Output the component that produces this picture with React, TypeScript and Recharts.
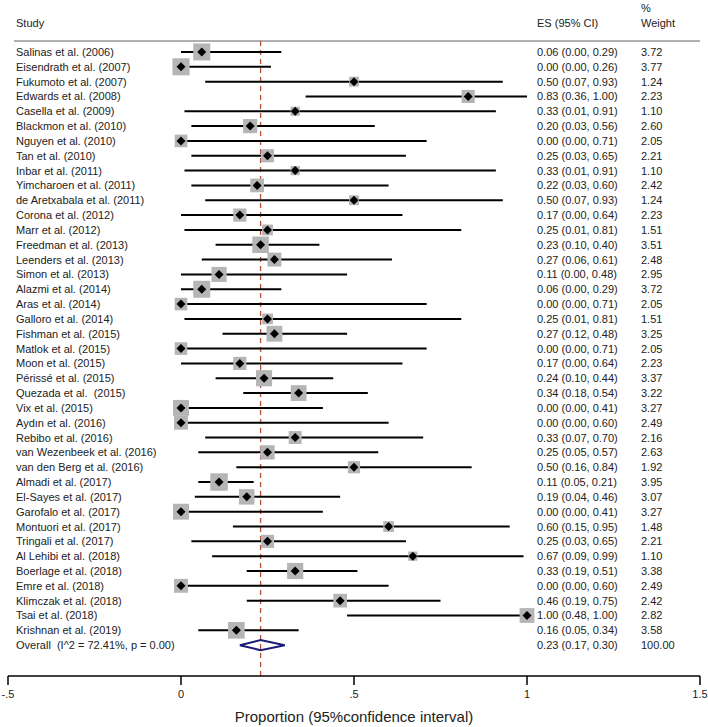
import { ComposedChart, ErrorBar, ReferenceLine, Scatter, XAxis, YAxis } from "recharts";

const font = "'Liberation Sans', Arial, sans-serif";
const ink = "#222222";

const studies = [
  "Salinas et al. (2006)", "Eisendrath et al. (2007)", "Fukumoto et al. (2007)", "Edwards et al. (2008)",
  "Casella et al. (2009)", "Blackmon et al. (2010)", "Nguyen et al. (2010)", "Tan et al. (2010)",
  "Inbar et al. (2011)", "Yimcharoen et al. (2011)", "de Aretxabala et al. (2011)", "Corona et al. (2012)",
  "Marr et al. (2012)", "Freedman et al. (2013)", "Leenders et al. (2013)", "Simon et al. (2013)",
  "Alazmi et al. (2014)", "Aras et al. (2014)", "Galloro et al. (2014)", "Fishman et al. (2015)",
  "Matlok et al. (2015)", "Moon et al. (2015)", "Périssé et al. (2015)", "Quezada et al.  (2015)",
  "Vix et al. (2015)", "Aydın et al. (2016)", "Rebibo et al. (2016)", "van Wezenbeek et al. (2016)",
  "van den Berg et al. (2016)", "Almadi et al. (2017)", "El-Sayes et al. (2017)", "Garofalo et al. (2017)",
  "Montuori et al. (2017)", "Tringali et al. (2017)", "Al Lehibi et al. (2018)", "Boerlage et al. (2018)",
  "Emre et al. (2018)", "Klimczak et al. (2018)", "Tsai et al. (2018)", "Krishnan et al. (2019)"
];
const es = [0.06, 0.0, 0.5, 0.83, 0.33, 0.2, 0.0, 0.25, 0.33, 0.22, 0.5, 0.17, 0.25, 0.23, 0.27, 0.11, 0.06, 0.0, 0.25, 0.27,
  0.0, 0.17, 0.24, 0.34, 0.0, 0.0, 0.33, 0.25, 0.5, 0.11, 0.19, 0.0, 0.6, 0.25, 0.67, 0.33, 0.0, 0.46, 1.0, 0.16];
const ciLow = [0.0, 0.0, 0.07, 0.36, 0.01, 0.03, 0.0, 0.03, 0.01, 0.03, 0.07, 0.0, 0.01, 0.1, 0.06, 0.0, 0.0, 0.0, 0.01, 0.12,
  0.0, 0.0, 0.1, 0.18, 0.0, 0.0, 0.07, 0.05, 0.16, 0.05, 0.04, 0.0, 0.15, 0.03, 0.09, 0.19, 0.0, 0.19, 0.48, 0.05];
const ciHigh = [0.29, 0.26, 0.93, 1.0, 0.91, 0.56, 0.71, 0.65, 0.91, 0.6, 0.93, 0.64, 0.81, 0.4, 0.61, 0.48, 0.29, 0.71, 0.81, 0.48,
  0.71, 0.64, 0.44, 0.54, 0.41, 0.6, 0.7, 0.57, 0.84, 0.21, 0.46, 0.41, 0.95, 0.65, 0.99, 0.51, 0.6, 0.75, 1.0, 0.34];
const weight = [3.72, 3.77, 1.24, 2.23, 1.1, 2.6, 2.05, 2.21, 1.1, 2.42, 1.24, 2.23, 1.51, 3.51, 2.48, 2.95, 3.72, 2.05, 1.51, 3.25,
  2.05, 2.23, 3.37, 3.22, 3.27, 2.49, 2.16, 2.63, 1.92, 3.95, 3.07, 3.27, 1.48, 2.21, 1.1, 3.38, 2.49, 2.42, 2.82, 3.58];

const overallLabel = "Overall  (I^2 = 72.41%, p = 0.00)";
const overallEs = 0.23;
const overallCi = [0.17, 0.3];
const overallWeight = 100;

const xTicks = [-0.5, 0, 0.5, 1, 1.5];

const rows = studies.map((name, i) => ({
  name, x: es[i], y: i, lo: ciLow[i], hi: ciHigh[i], w: weight[i],
  err: [es[i] - ciLow[i], ciHigh[i] - es[i]]
}));
// text rows, anchored to the left edge of the x range; only their y is used
const labels = [
  ...rows.map((r) => ({ name: r.name, ci: `${r.x.toFixed(2)} (${r.lo.toFixed(2)}, ${r.hi.toFixed(2)})`, w: r.w.toFixed(2) })),
  { name: overallLabel, ci: `${overallEs.toFixed(2)} (${overallCi[0].toFixed(2)}, ${overallCi[1].toFixed(2)})`, w: overallWeight.toFixed(2) }
].map((l, i) => ({ ...l, x: -0.5, y: i }));
const overallRow = rows.length;
const dh = 0.34; // diamond half height, in rows
const diamond = [
  { x: overallCi[0], y: overallRow },
  { x: overallEs, y: overallRow - dh },
  { x: overallCi[1], y: overallRow },
  { x: overallEs, y: overallRow + dh },
  { x: overallCi[0], y: overallRow }
];

function RowText(props: any) {
  const { cy, payload } = props;
  const common = { y: cy, dy: 4, fontSize: 11, fill: ink, fontFamily: font, style: { whiteSpace: "pre" as const } };
  return (
    <g>
      <text x={16} {...common}>{payload.name}</text>
      <text x={537} {...common}>{payload.ci}</text>
      <text x={641} {...common}>{payload.w}</text>
    </g>
  );
}

function WeightBox(props: any) {
  const { cx, cy, payload } = props;
  const s = 8.8 * Math.sqrt(payload.w);
  return <rect x={cx - s / 2} y={cy - s / 2} width={s} height={s} fill="#b5b5b5" />;
}

function Point(props: any) {
  const { cx, cy } = props;
  const r = 4.5;
  return <polygon points={`${cx - r},${cy} ${cx},${cy - r} ${cx + r},${cy} ${cx},${cy + r}`} fill="#000" />;
}

const fmtTick = (v: number) => (v === 0 || v === 1 ? String(v) : String(v).replace("0.", "."));

export default function App() {
  const head = { position: "absolute" as const, fontSize: 11, lineHeight: "12px", color: ink, fontFamily: font };
  return (
    <div style={{ position: "absolute", left: 0, top: 0, width: 708, height: 727, background: "#fff" }}>
      <div style={{ ...head, left: 16, top: 17 }}>Study</div>
      <div style={{ ...head, left: 537, top: 17 }}>ES (95% CI)</div>
      <div style={{ ...head, left: 641, top: 2 }}>%</div>
      <div style={{ ...head, left: 641, top: 17 }}>Weight</div>
      <div style={{ position: "absolute", left: 14, top: 40, width: 686, height: 1.5, background: "#b0b0b0" }} />
      <ComposedChart width={708} height={727} margin={{ top: 41, right: 8, bottom: 1, left: 8 }}>
        <XAxis
          type="number" dataKey="x" domain={[-0.5, 1.5]} ticks={xTicks} tickFormatter={fmtTick} allowDataOverflow
          tickSize={9} tickMargin={5} height={50}
          axisLine={{ stroke: "#000", strokeWidth: 1.5 }} tickLine={{ stroke: "#000", strokeWidth: 1.5 }}
          tick={{ fill: ink, fontSize: 11, fontFamily: font }}
          label={{ value: "Proportion (95%confidence interval)", position: "insideBottom", offset: 4, fill: ink, fontSize: 15, fontFamily: font }}
        />
        <YAxis type="number" dataKey="y" domain={[-0.74, 42.08]} reversed allowDataOverflow width={0} hide />
        <ReferenceLine x={overallEs} stroke="#b5503a" strokeWidth={1.3} strokeDasharray="5 4" />
        <Scatter data={labels} shape={<RowText />} isAnimationActive={false} />
        <Scatter data={rows} shape={<WeightBox />} isAnimationActive={false} />
        <Scatter data={rows} shape={<Point />} isAnimationActive={false}>
          <ErrorBar dataKey="err" direction="x" width={0} stroke="#000" strokeWidth={2} isAnimationActive={false} />
        </Scatter>
        <Scatter data={diamond} line={{ stroke: "#1c1c78", strokeWidth: 2 }} shape={() => <g />} isAnimationActive={false} />
      </ComposedChart>
    </div>
  );
}
